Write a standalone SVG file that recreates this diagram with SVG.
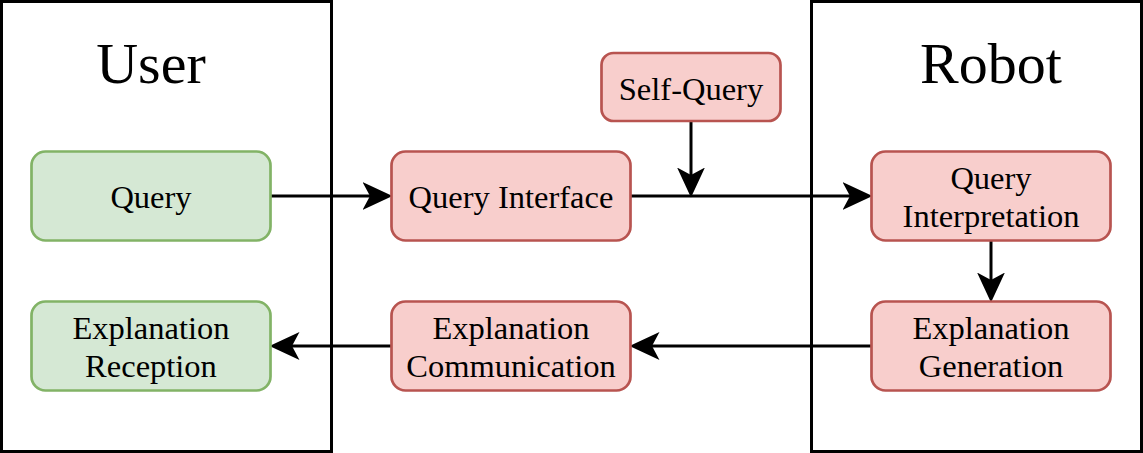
<svg xmlns="http://www.w3.org/2000/svg" width="1143" height="453" viewBox="0 0 1143 453">
<style>
.lane{fill:#ffffff;stroke:#000000;stroke-width:3}
.g{fill:#d5e8d4;stroke:#82b366;stroke-width:2.7}
.r{fill:#f8cecc;stroke:#b85450;stroke-width:2.7}
text{font-family:"Liberation Serif","Times New Roman",serif;fill:#000000;text-anchor:middle}
.t{font-size:32.5px}
.h{font-size:58px}
.c{fill:none;stroke:#000000;stroke-width:3}
</style>
<defs>
<marker id="ah" markerUnits="userSpaceOnUse" markerWidth="30" markerHeight="28" viewBox="0 0 28 26" refX="7" refY="13" orient="auto">
<path d="M28,13 L0,0 L7,13 L0,26 Z" fill="#000000"/>
</marker>
</defs>
<g id="user-lane">
<rect class="lane" x="1.5" y="1.5" width="330" height="450"/>
<text class="h" x="151" y="83">User</text>
</g>
<g id="robot-lane">
<rect class="lane" x="811.5" y="1.5" width="330" height="450"/>
<text class="h" x="991" y="83">Robot</text>
</g>
<g id="connectors">
<line class="c" x1="271" y1="196" x2="370" y2="196" marker-end="url(#ah)"/>
<line class="c" x1="631" y1="196" x2="850" y2="196" marker-end="url(#ah)"/>
<line class="c" x1="691" y1="121" x2="691" y2="175" marker-end="url(#ah)"/>
<line class="c" x1="991" y1="241" x2="991" y2="280" marker-end="url(#ah)"/>
<line class="c" x1="871" y1="346" x2="652" y2="346" marker-end="url(#ah)"/>
<line class="c" x1="391" y1="346" x2="292" y2="346" marker-end="url(#ah)"/>
</g>
<g id="query">
<rect class="g" x="31.5" y="151.5" width="239" height="89" rx="14"/>
<text class="t" x="151" y="208">Query</text>
</g>
<g id="explanation-reception">
<rect class="g" x="31.5" y="301.5" width="239" height="89" rx="14"/>
<text class="t" x="151" y="339">Explanation</text>
<text class="t" x="151" y="377">Reception</text>
</g>
<g id="query-interface">
<rect class="r" x="391.5" y="151.5" width="239" height="89" rx="14"/>
<text class="t" x="511" y="208">Query Interface</text>
</g>
<g id="self-query">
<rect class="r" x="601.5" y="53" width="179" height="68" rx="12"/>
<text class="t" x="691" y="100">Self-Query</text>
</g>
<g id="explanation-communication">
<rect class="r" x="391.5" y="301.5" width="239" height="89" rx="14"/>
<text class="t" x="511" y="339">Explanation</text>
<text class="t" x="511" y="377">Communication</text>
</g>
<g id="query-interpretation">
<rect class="r" x="871.5" y="151.5" width="239" height="89" rx="14"/>
<text class="t" x="991" y="189">Query</text>
<text class="t" x="991" y="227">Interpretation</text>
</g>
<g id="explanation-generation">
<rect class="r" x="871.5" y="301.5" width="239" height="89" rx="14"/>
<text class="t" x="991" y="339">Explanation</text>
<text class="t" x="991" y="377">Generation</text>
</g>
</svg>
